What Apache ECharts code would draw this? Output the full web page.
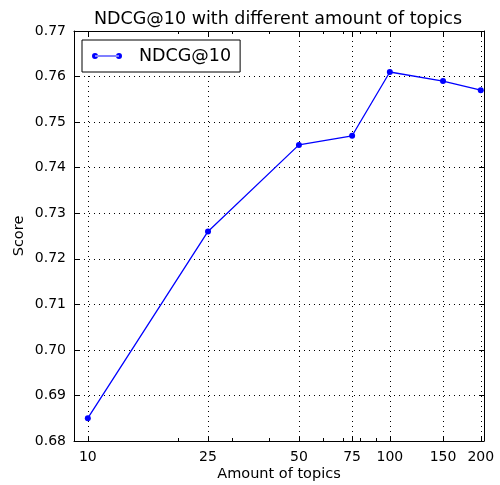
<!DOCTYPE html>
<html>
<head>
<meta charset="utf-8">
<script src="https://cdn.jsdelivr.net/npm/echarts@6/dist/echarts.min.js"></script>
<style>
  html, body { margin: 0; padding: 0; background: #fff; }
  #chart { width: 500px; height: 485px; }
</style>
</head>
<body>
<div id="chart"></div>
<script>
const topics = [10, 25, 50, 75, 100, 150, 200];
const ndcg = [0.685, 0.726, 0.745, 0.747, 0.761, 0.759, 0.757];
const xTicks = [10, 25, 50, 75, 100, 150, 200];
const xMinorTicks = [20, 30, 40, 60, 70, 80, 90];

const font = 'DejaVu Sans';
const chart = echarts.init(document.getElementById('chart'));

const frameAxis = {
  axisLine: { show: true, lineStyle: { color: '#000', width: 1 } },
  axisTick: { show: true, inside: true, length: 5, lineStyle: { color: '#000' } }
};

// extra log axes that only draw the small minor ticks
const minorAxis = pos => ({
  type: 'log',
  min: 9,
  max: 205,
  position: pos,
  axisLine: { show: false },
  axisTick: { show: true, inside: true, length: 3, lineStyle: { color: '#000' }, customValues: xMinorTicks },
  axisLabel: { show: false, customValues: xMinorTicks },
  splitLine: { show: false }
});

// legend icon: line with a marker at each end, like matplotlib
const legendIcon = 'path://M0,3A3,3 0 1,0 6,3A3,3 0 1,0 0,3Z' +
  'M24,3A3,3 0 1,0 30,3A3,3 0 1,0 24,3Z' +
  'M3,2.4L27,2.4L27,3.6L3,3.6Z';

chart.setOption({
  animation: false,
  textStyle: { fontFamily: font },
  title: {
    text: 'NDCG@10 with different amount of topics',
    left: 273,
    textAlign: 'center',
    top: 5,
    textStyle: { fontFamily: font, fontSize: 17.5, fontWeight: 'normal', color: '#000' }
  },
  legend: {
    left: 82,
    top: 40,
    orient: 'vertical',
    padding: [7, 9, 7, 10],
    itemWidth: 30,
    itemHeight: 6,
    borderColor: '#000',
    borderWidth: 1,
    borderRadius: 0,
    backgroundColor: '#fff',
    textStyle: { fontFamily: font, fontSize: 17.5, color: '#000', padding: [0, 0, 0, 12] },
    data: [{ name: 'NDCG@10', icon: legendIcon }]
  },
  grid: { left: 74, right: 16, top: 31, bottom: 44, outerBoundsMode: 'none' },
  xAxis: [
    {
      type: 'log',
      min: 9,
      max: 205,
      name: 'Amount of topics',
      nameLocation: 'middle',
      nameGap: 26,
      nameMoveOverlap: false,
      nameTextStyle: { fontFamily: font, fontSize: 14.5, color: '#000' },
      ...frameAxis,
      axisTick: { show: true, inside: true, length: 5, lineStyle: { color: '#000' }, customValues: xTicks },
      axisLabel: { customValues: xTicks, fontFamily: font, fontSize: 14, color: '#000', margin: 9 },
      splitLine: { show: true, lineStyle: { color: '#000', type: [1, 4], width: 1 } },
      minorTick: { show: false }
    },
    {
      type: 'log',
      min: 9,
      max: 205,
      position: 'top',
      ...frameAxis,
      axisTick: { show: true, inside: true, length: 5, lineStyle: { color: '#000' }, customValues: xTicks },
      axisLabel: { show: false, customValues: xTicks },
      splitLine: { show: false }
    },
    minorAxis('bottom'),
    minorAxis('top')
  ],
  yAxis: [
    {
      type: 'value',
      min: 0.68,
      max: 0.77,
      interval: 0.01,
      name: 'Score',
      nameLocation: 'middle',
      nameGap: 47,
      nameMoveOverlap: false,
      nameTextStyle: { fontFamily: font, fontSize: 14.5, color: '#000' },
      ...frameAxis,
      axisLabel: { fontFamily: font, fontSize: 14, color: '#000', margin: 8, formatter: v => v.toFixed(2) },
      splitLine: { show: true, lineStyle: { color: '#000', type: [1, 4], width: 1 } }
    },
    {
      type: 'value',
      min: 0.68,
      max: 0.77,
      interval: 0.01,
      position: 'right',
      ...frameAxis,
      axisLabel: { show: false },
      splitLine: { show: false }
    }
  ],
  series: [
    {
      name: 'NDCG@10',
      type: 'line',
      data: topics.map((t, i) => [t, ndcg[i]]),
      color: '#0000ff',
      lineStyle: { width: 1.3, color: '#0000ff' },
      symbol: 'circle',
      symbolSize: 6,
      itemStyle: { color: '#0000ff' }
    }
  ]
});
</script>
</body>
</html>
